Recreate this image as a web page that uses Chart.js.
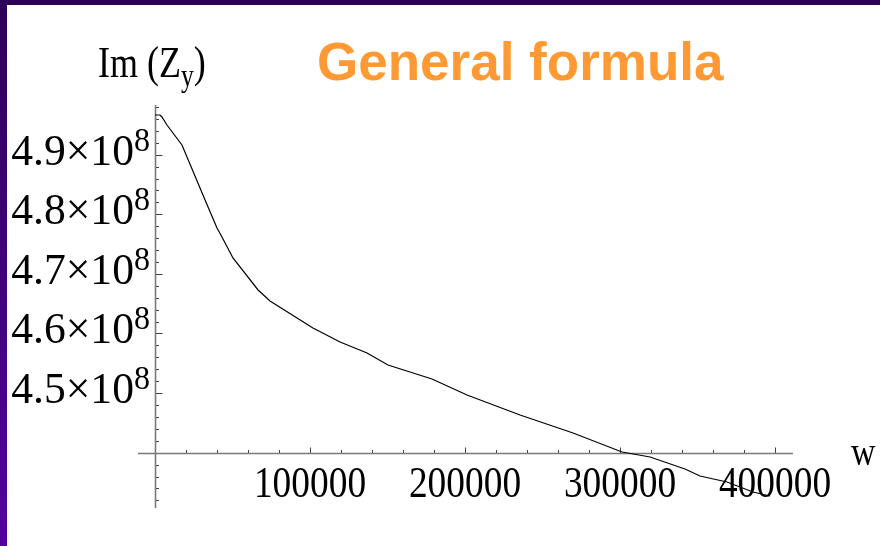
<!DOCTYPE html>
<html>
<head>
<meta charset="utf-8">
<script src="https://cdn.jsdelivr.net/npm/chart.js@4.4.0/dist/chart.umd.min.js"></script>
<style>
  html, body { margin: 0; padding: 0; background: #fff; }
  #wrap { position: relative; width: 880px; height: 546px; overflow: hidden; }
  #chart { position: absolute; left: 0; top: 0; }
  #topbar { position: absolute; left: 0; top: 0; width: 880px; height: 5px; background: #2d0058; }
  #leftbar { position: absolute; left: 0; top: 0; width: 7px; height: 546px; background: linear-gradient(#2d0058, #5400a2); }
</style>
</head>
<body>
<div id="wrap">
  <canvas id="chart" width="880" height="546"></canvas>
  <div id="topbar"></div>
  <div id="leftbar"></div>
</div>
<script>
// curve: w against Im(Zy)
const wValues = [0, 3200, 4500, 7700, 17400, 32300, 40000, 43200, 50300, 66500, 74200,
  101900, 119400, 136800, 150300, 178700, 201300, 235500, 269700, 301300, 319400,
  341900, 351600, 369000, 385800, 396800];
const imZyValues = [4.9666e8, 4.9666e8, 4.9633e8, 4.9498e8, 4.9163e8, 4.824e8, 4.777e8,
  4.762e8, 4.7267e8, 4.673e8, 4.6545e8, 4.6092e8, 4.5857e8, 4.5673e8, 4.5471e8,
  4.5237e8, 4.4968e8, 4.4633e8, 4.4331e8, 4.4012e8, 4.3928e8, 4.3727e8, 4.3609e8,
  4.3508e8, 4.3341e8, 4.3273e8];

const xTickValues = [100000, 200000, 300000, 400000];
const xTickLabels = ['100000', '200000', '300000', '400000'];
const yTickValues = [4.5e8, 4.6e8, 4.7e8, 4.8e8, 4.9e8];
const yTickLabels = ['4.5', '4.6', '4.7', '4.8', '4.9'];

const chartTitle = 'General formula';
const xAxisName = 'w';
const yAxisName = ['Im (Z', 'y', ')'];

// axes cross here, like Mathematica's AxesOrigin
const originX = 0;
const originY = 4.4e8;

const serif = '"Liberation Serif", "Times New Roman", serif';
const squeeze = 0.85; // the graphic was stretched taller on the slide

function drawText(ctx, text, x, y, size, align, sx) {
  ctx.save();
  ctx.font = size + 'px ' + serif;
  ctx.translate(x, y);
  ctx.scale(sx, 1);
  ctx.textAlign = align;
  ctx.textBaseline = 'alphabetic';
  ctx.fillText(text, 0, 0);
  ctx.restore();
}

function textWidth(ctx, text, size, sx) {
  ctx.font = size + 'px ' + serif;
  return ctx.measureText(text).width * sx;
}

const mathAxes = {
  id: 'mathAxes',
  beforeDatasetsDraw(chart) {
    const ctx = chart.ctx;
    const x = chart.scales.x;
    const y = chart.scales.y;
    const x0 = Math.round(x.getPixelForValue(originX)) + 0.5;
    const y0 = Math.round(y.getPixelForValue(originY)) + 0.5;

    ctx.save();
    // ticks
    ctx.strokeStyle = '#404040';
    ctx.lineWidth = 1;
    ctx.beginPath();
    for (let k = 1; k * 20000 <= x.max; k++) {
      const px = Math.round(x.getPixelForValue(k * 20000)) + 0.5;
      const len = k % 5 === 0 ? 6 : 3.5;
      ctx.moveTo(px, y0);
      ctx.lineTo(px, y0 - len);
    }
    for (let k = -5; 4.4e8 + k * 2e6 <= y.max; k++) {
      if (k === 0) continue;
      const v = 4.4e8 + k * 2e6;
      if (v < y.min) continue;
      const py = Math.round(y.getPixelForValue(v)) + 0.5;
      const len = k % 5 === 0 ? 7 : 3.5;
      ctx.moveTo(x0, py);
      ctx.lineTo(x0 + len, py);
    }
    ctx.stroke();

    // axis lines
    ctx.strokeStyle = '#7a7a7a';
    ctx.lineWidth = 1.6;
    ctx.beginPath();
    ctx.moveTo(x.left, y0);
    ctx.lineTo(x.right, y0);
    ctx.moveTo(x0, y.top);
    ctx.lineTo(x0, y.bottom);
    ctx.stroke();
    ctx.restore();
  },
  afterDraw(chart) {
    const ctx = chart.ctx;
    const x = chart.scales.x;
    const y = chart.scales.y;
    const y0 = y.getPixelForValue(originY);
    ctx.save();
    ctx.fillStyle = '#000';

    // x tick labels
    xTickValues.forEach((v, i) => {
      drawText(ctx, xTickLabels[i], x.getPixelForValue(v), y0 + 44, 44, 'center', squeeze);
    });

    // y tick labels  "4.9×10^8"
    yTickValues.forEach((v, i) => {
      const py = y.getPixelForValue(v);
      const main = yTickLabels[i] + '×10';
      const supW = textWidth(ctx, '8', 33, 0.97);
      const right = 150;
      drawText(ctx, '8', right, py - 4, 33, 'right', 0.97);
      drawText(ctx, main, right - supW, py + 10, 45, 'right', 0.97);
    });

    // axis names
    drawText(ctx, xAxisName, 851, 465, 40, 'left', squeeze);
    let ax = 98;
    drawText(ctx, yAxisName[0], ax, 77, 45, 'left', 0.8);
    ax += textWidth(ctx, yAxisName[0], 45, 0.8);
    drawText(ctx, yAxisName[1], ax, 86, 32, 'left', 0.8);
    ax += textWidth(ctx, yAxisName[1], 32, 0.8);
    drawText(ctx, yAxisName[2], ax, 77, 45, 'left', 0.8);

    // slide title
    ctx.font = 'bold 53px "Liberation Sans", Arial, sans-serif';
    ctx.fillStyle = '#ff9933';
    ctx.textAlign = 'left';
    ctx.textBaseline = 'alphabetic';
    ctx.fillText(chartTitle, 317, 80);
    ctx.restore();
  }
};

const points = wValues.map((w, i) => ({ x: w, y: imZyValues[i] }));

new Chart(document.getElementById('chart'), {
  type: 'line',
  data: {
    datasets: [{
      data: points,
      borderColor: '#000',
      borderWidth: 1.2,
      pointRadius: 0,
      tension: 0,
      fill: false
    }]
  },
  options: {
    responsive: false,
    animation: false,
    devicePixelRatio: 1,
    layout: { padding: { left: 138, right: 87, top: 105, bottom: 38 } },
    plugins: { legend: { display: false }, tooltip: { enabled: false } },
    scales: {
      x: { type: 'linear', min: -10970, max: 411600, display: false },
      y: { type: 'linear', min: 4.3072e8, max: 4.9834e8, display: false }
    }
  },
  plugins: [mathAxes]
});
</script>
</body>
</html>
